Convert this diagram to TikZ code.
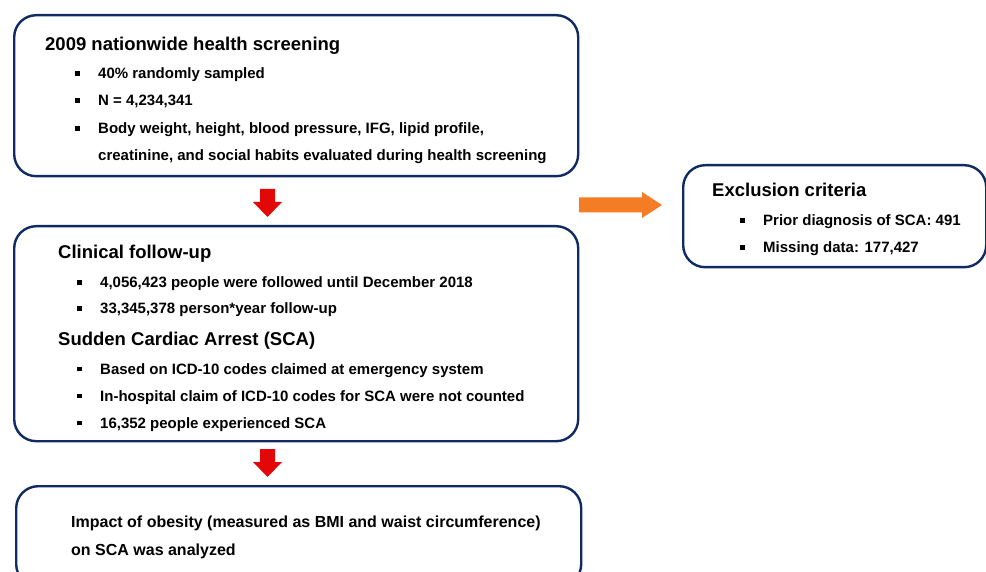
\documentclass[tikz,border=0pt]{standalone}
\usepackage{fontspec}
\setmainfont{Liberation Sans}
\definecolor{navy}{RGB}{16,42,98}
\definecolor{arrowred}{RGB}{226,8,8}
\definecolor{arroworange}{RGB}{244,124,36}
\newcommand{\sqbullet}{\makebox[0pt][l]{\hspace*{-23pt}\rule[3pt]{4.5pt}{4.5pt}}}
\tikzset{
  panel/.style={draw=navy, line width=2.4pt, rounded corners=22pt, anchor=north west, inner sep=0pt},
  head/.style={anchor=base west, inner sep=0pt, font=\fontsize{18.5}{20}\selectfont\bfseries},
  item/.style={anchor=base west, inner sep=0pt, font=\fontsize{15}{17}\selectfont\bfseries},
  bigitem/.style={item, font=\fontsize{16}{18}\selectfont\bfseries}
}
\begin{document}
\begin{tikzpicture}[x=1pt,y=-1pt]
    \useasboundingbox (0,0) rectangle (986,572);
    \clip (0,0) rectangle (986,572);
    %Screening
    \node[panel, minimum width=564pt, minimum height=161pt] (screen) at (13,14) {};
    \node[head] (screentitle) at (45,51) {2009 nationwide health screening};
    \node[item] (screenA) at (98,79) {\sqbullet 40\% randomly sampled};
    \node[item] (screenB) at (98,106) {\sqbullet N = 4,234,341};
    \node[item] (screenC) at (98,134) {\sqbullet Body weight, height, blood pressure, IFG, lipid profile,};
    \node[item] (screenD) at (98,161) {creatinine, and social habits evaluated during health screening};
    %Follow-up
    \node[panel, minimum width=564pt, minimum height=215pt] (follow) at (13,225) {};
    \node[head] (followtitle) at (58,259) {Clinical follow-up};
    \node[item] (followA) at (100,288) {\sqbullet 4,056,423 people were followed until December 2018};
    \node[item] (followB) at (100,314) {\sqbullet 33,345,378 person*year follow-up};
    \node[head] (scatitle) at (58,345) {Sudden Cardiac Arrest (SCA)};
    \node[item] (scaA) at (100,374) {\sqbullet Based on ICD-10 codes claimed at emergency system};
    \node[item] (scaB) at (100,401) {\sqbullet In-hospital claim of ICD-10 codes for SCA were not counted};
    \node[item] (scaC) at (100,428) {\sqbullet 16,352 people experienced SCA};
    %Analysis
    \node[panel, minimum width=565pt, minimum height=100pt] (analysis) at (15,485) {};
    \node[bigitem] (analysisA) at (71,527) {Impact of obesity (measured as BMI and waist circumference)};
    \node[bigitem] (analysisB) at (71,555) {on SCA was analyzed};
    %Exclusion
    \node[panel, minimum width=303pt, minimum height=102pt] (exclude) at (682,164) {};
    \node[head] (excludetitle) at (712,197) {Exclusion criteria};
    \node[item] (excludeA) at (763,226) {\sqbullet Prior diagnosis of SCA: 491};
    \node[item] (excludeB) at (763,253) {\sqbullet Missing data: 177,427};
    %Red arrows
    \coordinate (down1) at (267.5,189);
    \coordinate (down2) at (267.5,449);
    \fill[arrowred] (down1) ++(-7.5,0) -- ++(15,0) -- ++(0,13) -- ++(7,0) -- ++(-14.5,15) -- ++(-14.5,-15) -- ++(7,0) -- cycle;
    \fill[arrowred] (down2) ++(-7.5,0) -- ++(15,0) -- ++(0,13) -- ++(7,0) -- ++(-14.5,15) -- ++(-14.5,-15) -- ++(7,0) -- cycle;
    %Orange arrow
    \coordinate (side) at (579,205);
    \fill[arroworange] (side) ++(0,-7.5) -- ++(63,0) -- ++(0,-5.5) -- ++(20,13) -- ++(-20,13) -- ++(0,-5.5) -- ++(-63,0) -- cycle;
\end{tikzpicture}
\end{document}
